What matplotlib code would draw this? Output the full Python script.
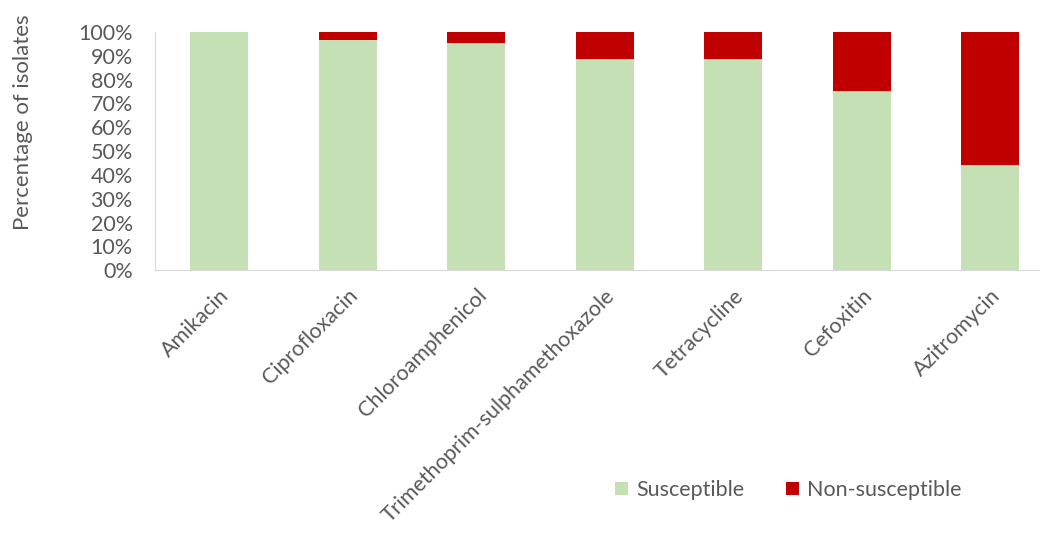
import matplotlib.pyplot as plt
from matplotlib.ticker import PercentFormatter

antibiotics = ["Amikacin", "Ciprofloxacin", "Chloroamphenicol",
               "Trimethoprim-sulphamethoxazole", "Tetracycline",
               "Cefoxitin", "Azitromycin"]
susceptible = [100, 96.8, 95.2, 88.8, 88.8, 75.3, 44.0]
non_susceptible = [100 - s for s in susceptible]

green = "#c5e0b4"
red = "#c00000"
grey = "#595959"

plt.rcParams["font.family"] = ["Lato", "DejaVu Sans"]

fig = plt.figure(figsize=(10.4, 5.34), dpi=100)
ax = fig.add_axes([0.149, 0.494, 0.865, 0.446])

x = range(len(antibiotics))
ax.bar(x, susceptible, width=0.45, color=green, label="Susceptible")
ax.bar(x, non_susceptible, width=0.45, bottom=susceptible, color=red,
       label="Non-susceptible")

ax.set_xlim(-0.5, len(antibiotics) - 0.5)
ax.set_ylim(0, 100)
ax.set_yticks(range(0, 101, 10))
ax.yaxis.set_major_formatter(PercentFormatter(decimals=0))
ax.set_xticks(list(x))
ax.set_xticklabels(antibiotics, rotation=45, ha="right", rotation_mode="anchor")
ax.tick_params(axis="both", length=0, labelsize=15.5, colors=grey)
ax.tick_params(axis="y", pad=16)
ax.tick_params(axis="x", pad=11)
ax.set_ylabel("Percentage of isolates", fontsize=16, color=grey)
ax.yaxis.set_label_coords(-0.136, 0.62)

for side in ["top", "right"]:
    ax.spines[side].set_visible(False)
ax.spines["left"].set_color("#d9d9d9")
ax.spines["bottom"].set_color("#d9d9d9")

fig.legend(loc="center", bbox_to_anchor=(0.758, 0.082), ncol=2, frameon=False,
           fontsize=15.5, labelcolor=grey, handlelength=0.6, handleheight=0.6,
           columnspacing=1.9, handletextpad=0.4)

fig.savefig("out.png", dpi=100)
